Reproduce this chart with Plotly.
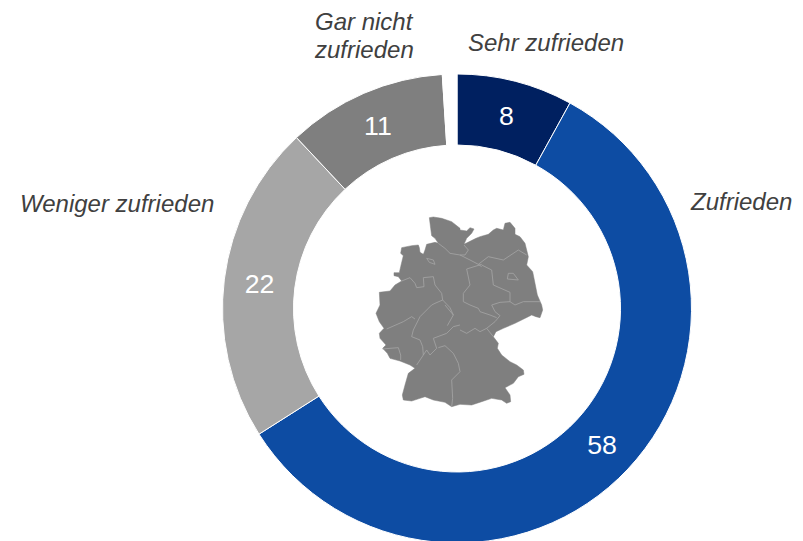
import plotly.graph_objects as go

# Data
categories = ["Sehr zufrieden", "Zufrieden", "Weniger zufrieden", "Gar nicht zufrieden", "Keine Angabe"]
values = [8, 58, 22, 11, 1]
slice_text = ["8", "58", "22", "11", ""]
colors = ["#002060", "#0D4CA3", "#A6A6A6", "#7F7F7F", "#FFFFFF"]

W, H = 803, 543
CX, CY, R = 457, 308.5, 234.5

NW, NE, SW, SE = (370, 205), (460, 205), (370, 305), (460, 305)

MAP_OUTLINE = [
    (NW, [(28,262),(60,258),(75,240),(95,228),(85,215),(72,212),(72,203),(88,203),(92,185),(98,160),(100,152),
          (92,145),(95,128),(125,122),(145,120),(148,128),(150,142),(160,148),(165,135),(170,118),(195,112),
          (205,115),(195,100),(185,92),(182,70),(178,38),(190,36),(215,40),(245,50),(270,70)]),
    (NE, [(0,75),(20,78),(30,68),(42,72),(35,85),(20,100),(12,118),(48,100),(60,95),(85,88),(100,75),(110,70),
          (130,75),(135,55),(150,52),(165,70),(165,88),(180,95),(195,115),(200,135),(205,155),(200,180),
          (218,200),(225,235),(232,270),(245,300)]),
    (SE, [(245,0),(248,15),(240,38),(228,35),(215,30),(205,35),(165,55),(130,70),(108,80),(100,95),(115,115),
          (112,130),(125,150),(150,170),(170,180),(190,195),(192,208),(175,215),(160,235),(135,248),(150,270),
          (152,290),(140,295),(125,285),(95,280),(65,290),(35,300),(0,298)]),
    (SW, [(245,305),(225,292),(190,285),(165,275),(150,280),(125,288),(100,285),(97,270),(105,240),(115,205),
          (135,190),(120,180),(90,168),(60,160),(52,145),(38,130),(48,120),(30,100),(28,85),(42,70),(28,50),
          (18,25),(30,0)]),
]
MAP_BORDERS = [
    (NW, [(205,115),(225,130),(240,145),(270,150)]),
    (NE, [(0,150),(15,150),(25,135),(12,120)]),
    (NE, [(0,150),(30,165),(55,178),(65,185)]),
    (NE, [(55,178),(85,155),(130,165),(175,135),(200,150)]),
    (NE, [(65,178),(20,192),(30,240),(10,265),(10,290),(30,300)]),
    (NE, [(65,180),(95,195),(100,240),(150,262),(150,290),(120,292),(95,300)]),
    (NE, [(150,290),(165,300),(190,290),(240,290)]),
    (NE, [(145,205),(160,205),(175,225),(142,222),(145,205)]),
    (NW, [(170,160),(190,165),(195,178),(178,172),(170,160)]),
    (NW, [(95,228),(120,218),(135,235),(140,248),(162,245),(160,218),(190,215),(195,240),(215,265),(218,285),
          (195,295),(185,300)]),
    (SW, [(185,0),(175,10),(150,35),(130,75),(125,95),(150,105),(158,125),(160,150),(140,180)]),
    (SW, [(50,72),(100,50),(125,35),(135,42)]),
    (SW, [(38,132),(60,130),(85,128),(92,150),(92,165)]),
    (SW, [(160,150),(170,135),(180,150),(200,130),(190,100),(230,85),(250,65),(270,60)]),
    (SW, [(205,128),(225,122),(250,145),(265,175),(270,200),(245,225),(248,280),(245,305)]),
    (SW, [(218,-15),(240,8),(250,30),(232,62)]),
    (SW, [(225,0),(250,30)]),
    (SE, [(30,0),(55,10),(60,20),(90,30),(110,38)]),
    (SE, [(95,0),(105,20),(120,32),(105,50),(80,70),(100,95)]),
    (SE, [(0,75),(20,85),(45,70),(60,80),(80,70)]),
]


def to_paper(origin, p):
    return (origin[0] + p[0] / 3) / W, 1 - (origin[1] + p[1] / 3) / H


def path(segments, close=False):
    pts = [to_paper(o, p) for o, ps in segments for p in ps]
    s = "M " + " L ".join("%.5f,%.5f" % q for q in pts)
    return s + (" Z" if close else "")


shapes = [dict(type="path", xref="paper", yref="paper", path=path(MAP_OUTLINE, True),
               fillcolor="#7F7F7F", line=dict(color="#7F7F7F", width=0.5), layer="above")]
for b in MAP_BORDERS:
    shapes.append(dict(type="path", xref="paper", yref="paper", path=path([b]),
                       line=dict(color="#A6A6A6", width=0.8), layer="above"))


def label(text, x, y):
    return dict(text="<i>%s</i>" % text, x=x / W, y=1 - y / H, xref="paper", yref="paper", showarrow=False,
                xanchor="center", yanchor="middle",
                font=dict(family="Liberation Sans", size=24, color="#404040"))


annotations = [
    label("Sehr zufrieden", 546, 42),
    label("Zufrieden", 741, 202),
    label("Weniger zufrieden", 117, 203),
    label("Gar nicht", 364, 21),
    label("zufrieden", 364, 50),
]

fig = go.Figure(go.Pie(
    labels=categories, values=values, text=slice_text, textinfo="text",
    textposition="inside", insidetextorientation="horizontal",
    textfont=dict(family="Liberation Sans", size=26.7, color="white"),
    hole=163.5 / 234.5, sort=False, direction="clockwise", rotation=0,
    marker=dict(colors=colors, line=dict(color="white", width=1)),
    domain=dict(x=[(CX - R) / W, (CX + R) / W], y=[0, 1 - (CY - R) / H]),
    showlegend=False,
))
fig.update_layout(width=W, height=H, margin=dict(l=0, r=0, t=0, b=0), autosize=False,
                  paper_bgcolor="white", plot_bgcolor="white",
                  shapes=shapes, annotations=annotations)
fig.write_html("out.html", config=dict(displayModeBar=False),
               post_script="document.body.style.margin='0';document.body.style.overflow='hidden';document.documentElement.style.overflow='hidden';")
